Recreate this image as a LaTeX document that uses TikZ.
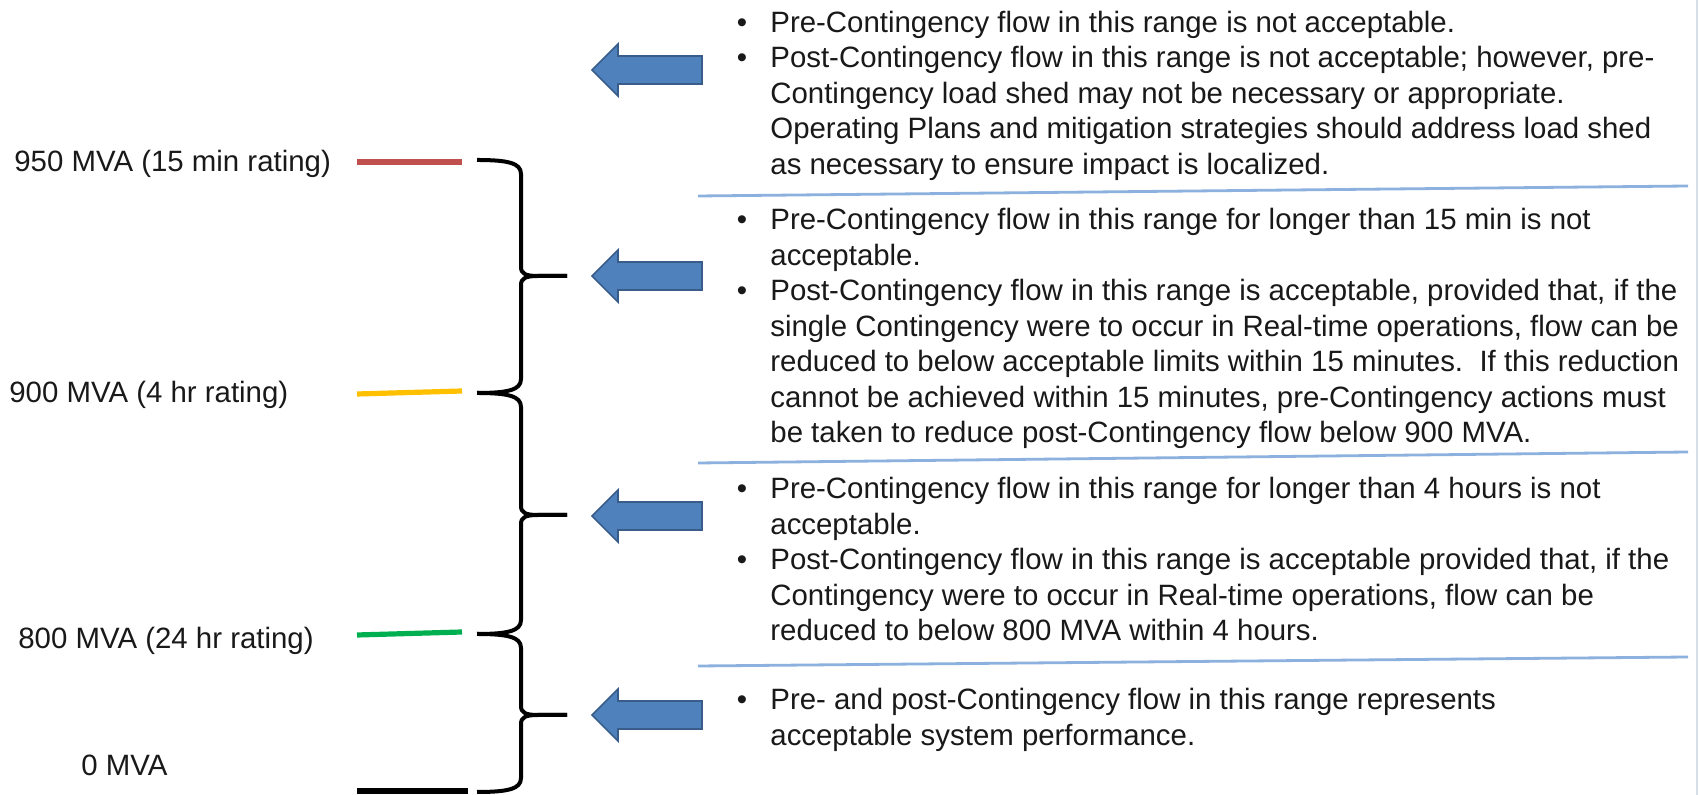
\documentclass[tikz,border=0pt]{standalone}
\usepackage{fontspec}
\setmainfont{Liberation Sans}
\definecolor{txt}{RGB}{25,25,25}
\definecolor{arrowblue}{RGB}{79,129,189}
\definecolor{arrowedge}{RGB}{56,93,138}
\definecolor{sepblue}{RGB}{141,177,222}
\definecolor{lvred}{RGB}{192,80,77}
\definecolor{lvyellow}{RGB}{255,192,0}
\definecolor{lvgreen}{RGB}{0,176,80}
\definecolor{edgegrey}{RGB}{214,222,232}
\newcommand\mvaarrow[2]{%
  \draw[bigarrow] (592,#2) coordinate (#1) -- (618,{#2-26}) -- (618,{#2-14}) -- (702,{#2-14})
    -- (702,{#2+14}) -- (618,{#2+14}) -- (618,{#2+26}) -- cycle;}
\newcommand\mvabrace[3]{%
  \draw[bracestyle] (477,#1) .. controls (508,#1) and (521,{#1+3}) .. (521,{#1+14})
    -- (521,{#2-9}) .. controls (521,{#2-2}) and (526,#2) .. (538,#2) -- (567,#2);
  \draw[bracestyle] (567,#2) -- (538,#2) .. controls (526,#2) and (521,{#2+2}) .. (521,{#2+9})
    -- (521,{#3-14}) .. controls (521,{#3-3}) and (508,#3) .. (477,#3);}
\newcommand\tline[3]{\node[body] (#1) at (770,#2) {#3};}
\newcommand\bline[3]{\node[bul] (#1-b) at (742,#2) {\textbullet};\node[body] (#1) at (770,#2) {#3};}
\begin{document}
\begin{tikzpicture}[x=0.5pt,y=-0.5pt,
  body/.style={anchor=base west, inner sep=0pt, text=txt, font=\fontsize{14.7pt}{17.75pt}\selectfont},
  bul/.style={anchor=base, inner sep=0pt, text=txt, font=\fontsize{14.7pt}{17.75pt}\selectfont},
  lbl/.style={anchor=base west, inner sep=0pt, text=txt, font=\fontsize{14.7pt}{17.75pt}\selectfont},
  level/.style={line width=2.6pt},
  bracestyle/.style={line width=2pt, line cap=butt, line join=round},
  sep/.style={draw=sepblue, line width=1.4pt},
  bigarrow/.style={fill=arrowblue, draw=arrowedge, line width=0.8pt, line join=miter}]
\useasboundingbox (0,0) rectangle (1699,795);
\fill[white] (0,0) rectangle (1699,795);
\draw[edgegrey, line width=0.6pt] (1697,0) -- (1697,795);

% left labels
\node[lbl] (l950) at (14,172) {950 MVA (15 min rating)};
\node[lbl] (l900) at (9,403) {900 MVA (4 hr rating)};
\node[lbl] (l800) at (18,649) {800 MVA (24 hr rating)};
\node[lbl] (l0) at (81,776) {0 MVA};

% level lines
\draw[level, lvred] (357,162) -- (462,162);
\draw[level, lvyellow] (357,394) -- (462,391);
\draw[level, lvgreen] (357,635) -- (462,632);
\draw[line width=2.8pt, black] (357,791) -- (468,791);

% braces
\mvabrace{160}{276}{393}
\mvabrace{393}{515}{634}
\mvabrace{634}{715}{792}

% arrows
\mvaarrow{a1}{70}
\mvaarrow{a2}{276}
\mvaarrow{a3}{516}
\mvaarrow{a4}{715}

% separators
\draw[sep] (698,196) -- (1688,186);
\draw[sep] (698,463) -- (1688,452);
\draw[sep] (698,666) -- (1688,657);

% block 1
\bline{t1a}{32.5}{Pre-Contingency flow in this range is not acceptable.}
\bline{t1b}{68}{Post-Contingency flow in this range is not acceptable; however, pre-}
\tline{t1c}{103.5}{Contingency load shed may not be necessary or appropriate.}
\tline{t1d}{139}{Operating Plans and mitigation strategies should address load shed}
\tline{t1e}{174.5}{as necessary to ensure impact is localized.}

% block 2
\bline{t2a}{230}{Pre-Contingency flow in this range for longer than 15 min is not}
\tline{t2b}{265.5}{acceptable.}
\bline{t2c}{301}{Post-Contingency flow in this range is acceptable, provided that, if the}
\tline{t2d}{336.5}{single Contingency were to occur in Real-time operations, flow can be}
\tline{t2e}{372}{reduced to below acceptable limits within 15 minutes.\ \ If this reduction}
\tline{t2f}{407.5}{cannot be achieved within 15 minutes, pre-Contingency actions must}
\tline{t2g}{443}{be taken to reduce post-Contingency flow below 900 MVA.}

% block 3
\bline{t3a}{499}{Pre-Contingency flow in this range for longer than 4 hours is not}
\tline{t3b}{534.5}{acceptable.}
\bline{t3c}{570}{Post-Contingency flow in this range is acceptable provided that, if the}
\tline{t3d}{605.5}{Contingency were to occur in Real-time operations, flow can be}
\tline{t3e}{641}{reduced to below 800 MVA within 4 hours.}

% block 4
\bline{t4a}{710}{Pre- and post-Contingency flow in this range represents}
\tline{t4b}{745.5}{acceptable system performance.}
\end{tikzpicture}
\end{document}
